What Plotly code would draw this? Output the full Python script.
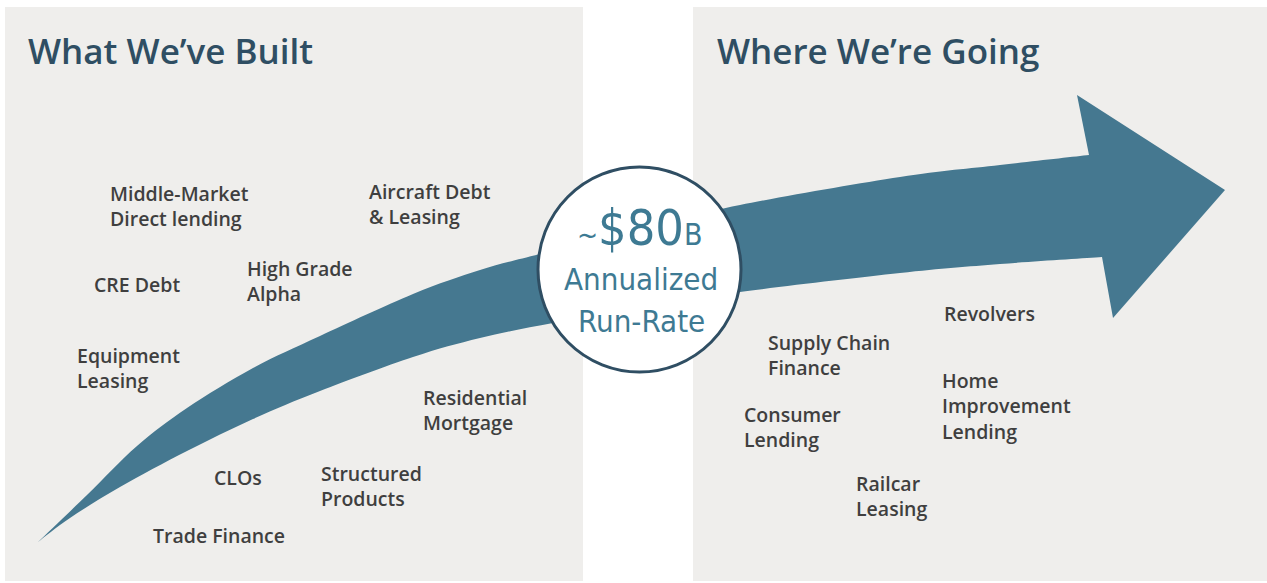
import plotly.graph_objects as go

W, H = 1267, 583

# ---- text content ----
titles = ["What We\u2019ve Built", "Where We\u2019re Going"]
title_x = [26, 715]
title_y = [50, 50]

left_labels = ["Middle-Market<br>Direct lending", "Aircraft Debt<br>& Leasing", "CRE Debt",
               "High Grade<br>Alpha", "Equipment<br>Leasing", "Residential<br>Mortgage",
               "CLOs", "Structured<br>Products", "Trade Finance"]
left_x = [108, 367, 92, 245, 75, 421, 212, 319, 151]
left_y = [206, 203.5, 284, 280.5, 367.5, 410, 477, 486, 535]

right_labels = ["Revolvers", "Supply Chain<br>Finance", "Home<br>Improvement<br>Lending",
                "Consumer<br>Lending", "Railcar<br>Leasing"]
right_x = [942, 766, 940, 742, 854]
right_y = [313, 355, 406, 426.5, 496]

center_value = "$80"
center_prefix = "~"
center_suffix = "B"
center_lines = ["Annualized", "Run-Rate"]

# ---- decorative geometry ----
upper_edge = [(38, 542), (87, 495), (137, 446), (187, 408), (253, 368), (320, 336), (413, 294),
              (480, 270), (540, 254), (640, 229), (740, 205), (900, 177), (1000, 165), (1089, 155)]
lower_edge = [(38, 542), (70, 518), (120, 487), (187, 451), (253, 419), (320, 391), (413, 357),
              (480, 338), (553, 323), (640, 308), (740, 292), (900, 273), (1000, 264), (1102, 257)]
head = [(1077, 95), (1225, 190), (1113, 318)]

ARROW = "#457890"
PANEL = "#EFEEEC"
DARK = "#2F4E63"
TEXT = "#3F3F3F"
TEAL = "#3E7A93"


def smooth_segments(pts):
    segs = []
    n = len(pts)
    for i in range(n - 1):
        p0 = pts[i - 1] if i > 0 else pts[i]
        p1 = pts[i]
        p2 = pts[i + 1]
        p3 = pts[i + 2] if i + 2 < n else pts[i + 1]
        c1 = (p1[0] + (p2[0] - p0[0]) / 6, p1[1] + (p2[1] - p0[1]) / 6)
        c2 = (p2[0] - (p3[0] - p1[0]) / 6, p2[1] - (p3[1] - p1[1]) / 6)
        segs.append(f"C {c1[0]:.1f},{c1[1]:.1f} {c2[0]:.1f},{c2[1]:.1f} {p2[0]},{p2[1]}")
    return " ".join(segs)


path = f"M {upper_edge[0][0]},{upper_edge[0][1]} " + smooth_segments(upper_edge)
for hx, hy in head:
    path += f" L {hx},{hy}"
lower_rev = lower_edge[::-1]
path += f" L {lower_rev[0][0]},{lower_rev[0][1]} " + smooth_segments(lower_rev) + " Z"

fig = go.Figure()
fig.add_trace(go.Scatter(x=[None], y=[None], showlegend=False, hoverinfo="skip"))

shapes = [
    dict(type="rect", xref="x", yref="y", x0=5, y0=7, x1=583, y1=581,
         fillcolor=PANEL, line=dict(width=0), layer="below"),
    dict(type="rect", xref="x", yref="y", x0=693, y0=7, x1=1267, y1=581,
         fillcolor=PANEL, line=dict(width=0), layer="below"),
    dict(type="path", xref="x", yref="y", path=path, fillcolor=ARROW,
         line=dict(width=0), layer="above"),
    dict(type="circle", xref="x", yref="y", x0=538, y0=167, x1=741, y1=372,
         fillcolor="white", line=dict(color=DARK, width=3), layer="above"),
]

ann = []
for t, x, y in zip(titles, title_x, title_y):
    ann.append(dict(text=t, x=x, y=y, xref="x", yref="y", xanchor="left", yanchor="middle",
                    showarrow=False, font=dict(family="Open Sans", size=35, color=DARK, weight=600)))
for t, x, y in zip(left_labels + right_labels, left_x + right_x, left_y + right_y):
    ann.append(dict(text=t, x=x, y=y, xref="x", yref="y", xanchor="left", yanchor="middle",
                    align="left", showarrow=False,
                    font=dict(family="Open Sans", size=19.5, color=TEXT, weight=600)))

cfont = "DejaVu Sans Condensed, DejaVu Sans"
cond = "font-stretch:condensed"
ann.append(dict(text=f"<span style='{cond};font-size:28px'>{center_prefix}</span>"
                     f"<span style='{cond}'>{center_value}</span>"
                     f"<span style='{cond};font-size:30px'>{center_suffix}</span>",
                x=639, y=228, xref="x", yref="y", xanchor="center", yanchor="middle",
                showarrow=False, font=dict(family=cfont, size=50, color=TEAL)))
for line, yy in zip(center_lines, [279, 321]):
    ann.append(dict(text=f"<span style='{cond}'>{line}</span>", x=641, y=yy, xref="x", yref="y",
                    xanchor="center", yanchor="middle", showarrow=False,
                    font=dict(family=cfont, size=31, color=TEAL)))

fig.update_layout(
    width=W, height=H, margin=dict(l=0, r=0, t=0, b=0),
    paper_bgcolor="white", plot_bgcolor="white",
    xaxis=dict(range=[0, W], visible=False, fixedrange=True),
    yaxis=dict(range=[H, 0], visible=False, fixedrange=True),
    shapes=shapes, annotations=ann, showlegend=False, hovermode=False,
)
fig.write_html("out.html", config={"displayModeBar": False},
               post_script="document.body.style.margin='0';")
